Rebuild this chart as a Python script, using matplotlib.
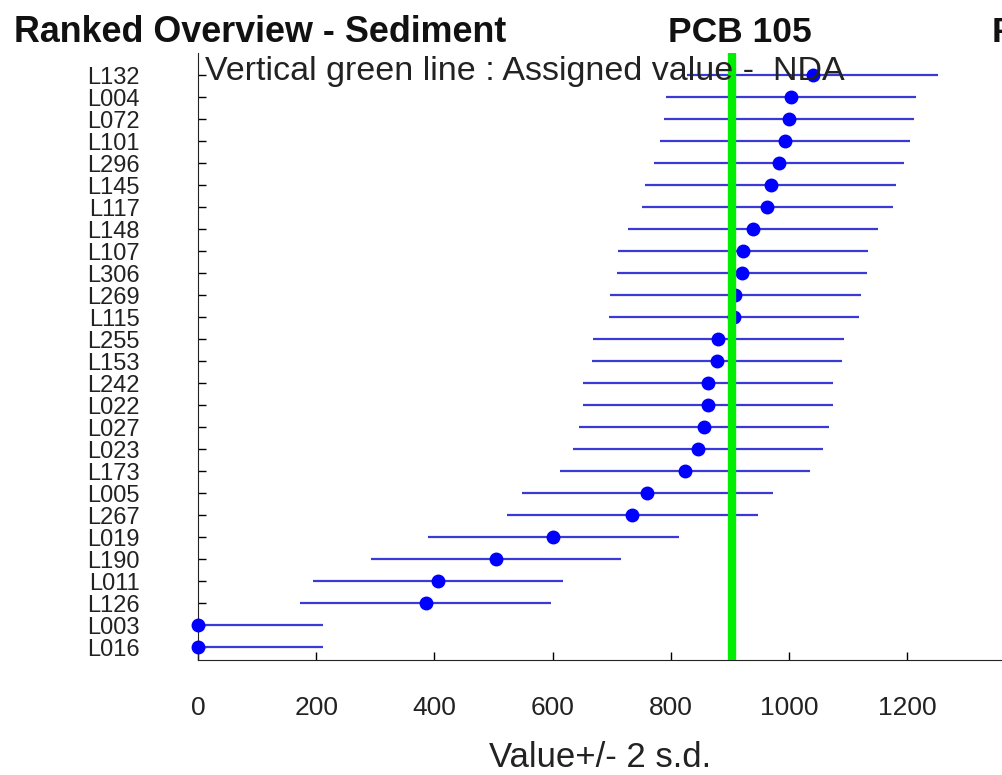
import matplotlib
matplotlib.use("Agg")
import matplotlib.pyplot as plt
import numpy as np

# Ranked overview data (top to bottom)
labs = ["L132", "L004", "L072", "L101", "L296", "L145", "L117", "L148", "L107",
        "L306", "L269", "L115", "L255", "L153", "L242", "L022", "L027", "L023",
        "L173", "L005", "L267", "L019", "L190", "L011", "L126", "L003", "L016"]
vals = [1040, 1003, 1000, 993, 983, 969, 963, 939, 922,
        920, 909, 907, 880, 878, 863, 863, 856, 846,
        824, 760, 735, 601, 504, 406, 385, 0, 0]
two_sd = 212          # 2 s.d. (same for every lab)
assigned = 904        # assigned value (green line)
xticks = [0, 200, 400, 600, 800, 1000, 1200]

plt.rcParams["font.family"] = ["Liberation Sans", "DejaVu Sans"]

W, H = 1002, 775
fig = plt.figure(figsize=(W / 100, H / 100), dpi=100)

# axes runs past the right edge of the picture (cropped like the original)
ax = fig.add_axes([198 / W, 115 / H, 827.6 / W, 607 / H])

n = len(labs)
ypos = np.arange(n, 0, -1)
v = np.array(vals, dtype=float)

ax.hlines(ypos, v - two_sd, v + two_sd, color="#3a3ad8", lw=1.6, zorder=2)
ax.plot(v, ypos, "o", color="#0000ff", ms=9, zorder=3, clip_on=False)
ax.axvline(assigned, color="#00ee00", lw=6, zorder=4)

ax.set_xlim(0, 1400)
ax.set_ylim(0.41, 28)
ax.set_yticks(ypos)
ax.set_yticklabels(labs, fontsize=17, color="#222222")
ax.set_xticks(xticks)
ax.set_xticklabels([str(t) for t in xticks], fontsize=19, color="#222222")
ax.tick_params(axis="y", direction="in", length=6, pad=42, width=1)
ax.tick_params(axis="x", direction="in", length=6, pad=26, width=1)

ax.spines["top"].set_visible(False)
ax.spines["right"].set_visible(False)
ax.spines["left"].set_color("#222222")
ax.spines["bottom"].set_color("#222222")

ax.set_xlabel("Value+/- 2 s.d.", fontsize=25, color="#222222")
ax.xaxis.set_label_coords((600 - 198) / 827.6, -(767 - 660) / 607)
ax.xaxis.label.set_va("baseline")

fig.text(205 / W, 1 - 80 / H, "Vertical green line : Assigned value -  NDA",
         fontsize=24.5, color="#222222", ha="left", va="baseline", zorder=6)

fig.text(14 / W, 1 - 42 / H, "Ranked Overview - Sediment", fontsize=25.8,
         fontweight="bold", ha="left", va="baseline", color="#111111")
fig.text(740 / W, 1 - 42 / H, "PCB 105", fontsize=25.5,
         fontweight="bold", ha="center", va="baseline", color="#111111")
fig.text(992 / W, 1 - 42 / H, "F", fontsize=25.5,
         fontweight="bold", ha="left", va="baseline", color="#111111")

fig.savefig("out.png", dpi=100)
